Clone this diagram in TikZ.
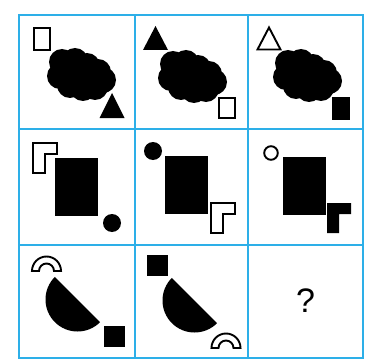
\documentclass[tikz,border=0pt]{standalone}
\usepackage{fontspec}
\setmainfont{Liberation Sans}
\usepackage{tikz}
\definecolor{gridcol}{RGB}{45,175,232}
\tikzset{
  gridline/.style={draw=gridcol,line width=1.6pt},
  solid part/.style={fill=black,draw=none},
  hollow part/.style={fill=white,draw=black,line width=2.4pt},
  thin part/.style={fill=white,draw=black,line width=1.9pt},
  cloud blob/.pic={
    \fill (0,0) circle (18);
    \foreach \dx/\dy in {-18/-12,-5/-13,7/-8,18/-2,23/6,15/13,3/14,-10/11,-20/2}{
      \fill (\dx,\dy) circle (13);}
  },
  gamma/.pic={
    \path[pic actions] (0,0) -- (24,0) -- (24,11) -- (12,11) -- (12,30) -- (0,30) -- cycle;
  },
  arch/.pic={
    \path[pic actions] (180:14.5) arc[start angle=180,end angle=360,radius=14.5]
      -- (0:7.5) arc[start angle=360,end angle=180,radius=7.5] -- cycle;
  },
  half disc/.pic={
    \fill (225:32) arc[start angle=225,end angle=45,radius=32] -- cycle;
  }
}

\begin{document}
\begin{tikzpicture}[x=1pt,y=-1pt]
\useasboundingbox (0,0) rectangle (367,361);
% ---- grid ----
\draw[gridline] (19,15) rectangle (363,358);
\foreach \x in {135,248}{\draw[gridline] (\x,15) -- (\x,358);}
\foreach \y in {129,245}{\draw[gridline] (19,\y) -- (363,\y);}
% ---- row 1: clouds ----
\pic at (80,74) {cloud blob};
\pic at (191,76) {cloud blob};
\pic at (306,75) {cloud blob};
\draw[hollow part] (34,28) rectangle (50,50);
\fill (112,93) -- (124.5,118) -- (99.5,118) -- cycle;
\fill (155.5,26) -- (168,50) -- (143,50) -- cycle;
\draw[hollow part] (219,98) rectangle (235,118);
\draw[thin part] (269,27.5) -- (280.5,49.5) -- (257.5,49.5) -- cycle;
\fill (332,97) rectangle (350,120);
% ---- row 2: blocks ----
\foreach \x/\y in {55/158,165/156,283/157}{\fill (\x,\y) rectangle ++(43,58);}
\pic[hollow part] at (33,143) {gamma};
\fill (112,223) circle (9);
\fill (153,151) circle (9);
\pic[hollow part] at (211,203) {gamma};
\draw[thin part] (271,153) circle (6.8);
\pic[solid part] at (327,203) {gamma};
% ---- row 3: half discs ----
\pic[thin part] at (46.5,271) {arch};
\pic at (77.5,299.5) {half disc};
\fill (104,326) rectangle ++(21,21);
\fill (147,255) rectangle ++(21,21);
\pic at (194.5,300.5) {half disc};
\pic[thin part] at (226,348) {arch};
\node[font=\fontsize{34}{40}\selectfont,inner sep=0pt] (quest) at (305.5,301) {?};
\end{tikzpicture}
\end{document}
